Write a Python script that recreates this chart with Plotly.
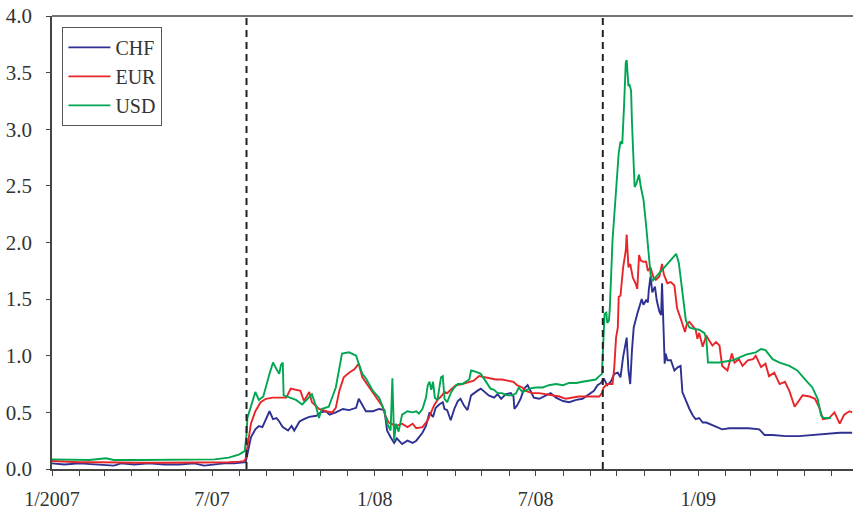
import plotly.graph_objects as go

# ---------------- data ----------------
chf_dates = [
    "2007-01-01","2007-01-15","2007-02-01","2007-02-18","2007-03-05","2007-03-12","2007-03-20",
    "2007-04-04","2007-04-21","2007-05-08","2007-05-25","2007-06-11","2007-06-22","2007-07-04",
    "2007-07-15","2007-07-26","2007-08-04","2007-08-08","2007-08-10","2007-08-14","2007-08-19",
    "2007-08-23","2007-08-27","2007-08-31","2007-09-04","2007-09-08","2007-09-12","2007-09-15",
    "2007-09-19","2007-09-25","2007-09-29","2007-10-02","2007-10-08","2007-10-13","2007-10-19",
    "2007-10-27","2007-11-01","2007-11-07","2007-11-11","2007-11-18","2007-11-26","2007-12-03",
    "2007-12-11","2007-12-14","2007-12-18","2007-12-22","2007-12-30","2008-01-06","2008-01-12",
    "2008-01-15","2008-01-19","2008-01-23","2008-01-26","2008-02-01","2008-02-07","2008-02-13",
    "2008-02-17","2008-02-20","2008-02-24","2008-02-28","2008-03-03","2008-03-07","2008-03-10",
    "2008-03-14","2008-03-18","2008-03-20","2008-03-23","2008-03-27","2008-03-31","2008-04-04",
    "2008-04-07","2008-04-11","2008-04-15","2008-04-19","2008-04-22","2008-04-26","2008-04-30",
    "2008-05-04","2008-05-09","2008-05-15","2008-05-19","2008-05-23","2008-05-28","2008-06-03",
    "2008-06-06","2008-06-07","2008-06-10","2008-06-14","2008-06-18","2008-06-22","2008-06-26",
    "2008-06-29","2008-07-05","2008-07-13","2008-07-18","2008-07-24","2008-08-01","2008-08-08",
    "2008-08-16","2008-08-23","2008-08-31","2008-09-05","2008-09-09","2008-09-13","2008-09-16",
    "2008-09-20","2008-09-24","2008-09-28","2008-10-02","2008-10-05","2008-10-08","2008-10-10",
    "2008-10-12","2008-10-14","2008-10-16","2008-10-18","2008-10-20","2008-10-24","2008-10-28",
    "2008-10-29","2008-10-31","2008-11-03","2008-11-05","2008-11-06","2008-11-08","2008-11-10",
    "2008-11-13","2008-11-15","2008-11-18","2008-11-20","2008-11-21","2008-11-22","2008-11-24",
    "2008-11-25","2008-11-27","2008-12-01","2008-12-05","2008-12-09","2008-12-12","2008-12-14",
    "2008-12-18","2008-12-22","2008-12-26","2008-12-29","2009-01-02","2009-01-06","2009-01-10",
    "2009-01-13","2009-01-21","2009-01-28","2009-02-05","2009-02-16","2009-02-27","2009-03-11",
    "2009-03-17","2009-03-26","2009-04-10","2009-04-25","2009-05-10","2009-05-25","2009-06-10",
    "2009-06-24",
]
chf_values = [
    0.05,0.04,0.05,0.04,0.03,0.03,0.05,
    0.04,0.05,0.04,0.04,0.05,0.03,0.04,
    0.05,0.05,0.06,0.06,0.13,0.28,0.35,
    0.38,0.37,0.44,0.51,0.44,0.45,0.42,
    0.37,0.34,0.38,0.34,0.42,0.44,0.46,
    0.47,0.50,0.51,0.48,0.50,0.53,0.52,
    0.54,0.62,0.56,0.51,0.51,0.53,0.52,
    0.34,0.28,0.23,0.27,0.22,0.25,0.23,
    0.25,0.28,0.32,0.38,0.50,0.46,0.54,
    0.57,0.59,0.53,0.52,0.43,0.53,0.60,
    0.62,0.56,0.52,0.65,0.67,0.69,0.71,
    0.68,0.65,0.63,0.66,0.62,0.66,0.67,
    0.64,0.53,0.56,0.62,0.71,0.74,0.68,
    0.63,0.62,0.65,0.67,0.63,0.60,0.59,
    0.61,0.62,0.66,0.69,0.74,0.76,0.80,
    0.74,0.77,0.84,0.85,0.81,0.99,1.08,
    1.16,0.87,0.75,1.05,1.25,1.37,1.49,
    1.50,1.45,1.49,1.47,1.58,1.70,1.56,
    1.61,1.49,1.39,1.36,1.64,1.37,0.93,
    1.02,0.96,0.96,0.87,0.90,0.91,0.68,
    0.60,0.53,0.47,0.44,0.45,0.41,0.41,
    0.40,0.38,0.35,0.36,0.36,0.36,0.35,
    0.30,0.30,0.29,0.29,0.30,0.31,0.32,
    0.32,
]

eur_dates = [
    "2007-01-01","2007-01-16","2007-02-01","2007-02-23","2007-03-18","2007-04-10","2007-05-03",
    "2007-05-25","2007-06-17","2007-07-10","2007-07-20","2007-08-01","2007-08-06","2007-08-08",
    "2007-08-10","2007-08-14","2007-08-19","2007-08-25","2007-08-31","2007-09-08","2007-09-15",
    "2007-09-23","2007-09-28","2007-10-04","2007-10-09","2007-10-13","2007-10-19","2007-10-22",
    "2007-10-30","2007-11-07","2007-11-14","2007-11-18","2007-11-22","2007-11-27","2007-12-03",
    "2007-12-09","2007-12-14","2007-12-18","2007-12-26","2008-01-02","2008-01-10","2008-01-13",
    "2008-01-17","2008-01-25","2008-02-01","2008-02-07","2008-02-13","2008-02-17","2008-02-24",
    "2008-03-01","2008-03-05","2008-03-08","2008-03-12","2008-03-16","2008-03-20","2008-03-23",
    "2008-03-27","2008-04-02","2008-04-09","2008-04-17","2008-04-22","2008-04-28","2008-05-04",
    "2008-05-09","2008-05-17","2008-05-24","2008-06-01","2008-06-06","2008-06-10","2008-06-16",
    "2008-06-20","2008-06-27","2008-07-05","2008-07-13","2008-07-20","2008-07-28","2008-08-04",
    "2008-08-12","2008-08-19","2008-08-27","2008-09-03","2008-09-11","2008-09-14","2008-09-16",
    "2008-09-20","2008-09-26","2008-09-28","2008-09-30","2008-10-02","2008-10-03","2008-10-05",
    "2008-10-08","2008-10-11","2008-10-12","2008-10-14","2008-10-16","2008-10-19","2008-10-22",
    "2008-10-24","2008-10-26","2008-10-28","2008-10-31","2008-11-03","2008-11-05","2008-11-08",
    "2008-11-11","2008-11-14","2008-11-18","2008-11-21","2008-11-23","2008-11-27","2008-12-01",
    "2008-12-05","2008-12-08","2008-12-12","2008-12-17","2008-12-19","2008-12-22","2008-12-26",
    "2008-12-29","2008-12-31","2009-01-02","2009-01-06","2009-01-10","2009-01-13","2009-01-17",
    "2009-01-21","2009-01-25","2009-01-28","2009-02-03","2009-02-08","2009-02-11","2009-02-16",
    "2009-02-20","2009-02-26","2009-03-04","2009-03-07","2009-03-13","2009-03-18","2009-03-22",
    "2009-03-28","2009-04-03","2009-04-09","2009-04-14","2009-04-20","2009-04-25","2009-04-29",
    "2009-05-07","2009-05-13","2009-05-18","2009-05-22","2009-05-29","2009-06-04","2009-06-10",
    "2009-06-15","2009-06-21","2009-06-24",
]
eur_values = [
    0.07,0.065,0.06,0.06,0.055,0.055,0.055,
    0.055,0.055,0.06,0.06,0.065,0.07,0.09,
    0.19,0.40,0.51,0.59,0.62,0.63,0.63,
    0.63,0.71,0.70,0.69,0.60,0.68,0.59,
    0.53,0.51,0.50,0.54,0.69,0.81,0.85,
    0.88,0.93,0.81,0.72,0.63,0.55,0.47,
    0.41,0.38,0.40,0.37,0.40,0.36,0.37,
    0.43,0.50,0.56,0.61,0.64,0.68,0.67,
    0.70,0.74,0.75,0.77,0.78,0.82,0.81,
    0.80,0.79,0.79,0.78,0.77,0.74,0.72,
    0.69,0.67,0.67,0.66,0.65,0.64,0.62,
    0.63,0.64,0.64,0.64,0.64,0.67,0.72,
    0.75,0.75,0.90,1.16,1.25,1.52,1.53,
    1.78,1.93,2.07,1.78,1.81,1.69,1.64,
    1.59,1.89,1.84,1.83,1.83,1.75,1.78,
    1.70,1.67,1.70,1.81,1.72,1.64,1.65,
    1.62,1.42,1.33,1.21,1.28,1.30,1.26,
    1.23,1.15,1.20,1.08,1.18,1.14,1.09,
    1.12,1.09,0.91,0.87,1.02,0.94,0.97,
    0.91,0.96,0.97,1.00,0.90,0.93,0.82,
    0.85,0.75,0.77,0.69,0.55,0.60,0.65,
    0.64,0.62,0.54,0.44,0.45,0.50,0.40,
    0.48,0.51,0.50,
]

usd_dates = [
    "2007-01-01","2007-01-20","2007-02-12","2007-03-03","2007-03-12","2007-04-10","2007-05-13",
    "2007-06-17","2007-07-04","2007-07-20","2007-08-01","2007-08-07","2007-08-09","2007-08-10",
    "2007-08-14","2007-08-19","2007-08-23","2007-08-28","2007-09-04","2007-09-08","2007-09-12",
    "2007-09-15","2007-09-17","2007-09-19","2007-09-20","2007-09-26","2007-10-04","2007-10-11",
    "2007-10-19","2007-10-22","2007-10-26","2007-10-30","2007-11-02","2007-11-10","2007-11-18",
    "2007-11-22","2007-11-25","2007-12-03","2007-12-11","2007-12-14","2007-12-18","2007-12-22",
    "2007-12-30","2008-01-06","2008-01-12","2008-01-15","2008-01-19","2008-01-21","2008-01-23",
    "2008-01-25","2008-01-28","2008-02-01","2008-02-07","2008-02-13","2008-02-17","2008-02-20",
    "2008-02-24","2008-02-28","2008-03-01","2008-03-03","2008-03-05","2008-03-07","2008-03-09",
    "2008-03-12","2008-03-14","2008-03-16","2008-03-18","2008-03-20","2008-03-23","2008-03-27",
    "2008-03-31","2008-04-04","2008-04-09","2008-04-13","2008-04-17","2008-04-19","2008-04-24",
    "2008-04-30","2008-05-04","2008-05-08","2008-05-11","2008-05-15","2008-05-19","2008-05-24",
    "2008-05-30","2008-06-05","2008-06-09","2008-06-12","2008-06-16","2008-06-24","2008-07-01",
    "2008-07-09","2008-07-16","2008-07-24","2008-08-01","2008-08-08","2008-08-16","2008-08-23",
    "2008-08-31","2008-09-07","2008-09-11","2008-09-14","2008-09-15","2008-09-17","2008-09-19",
    "2008-09-20","2008-09-22","2008-09-23","2008-09-26","2008-09-29","2008-10-03","2008-10-05",
    "2008-10-07","2008-10-09","2008-10-11","2008-10-12","2008-10-14","2008-10-15","2008-10-17",
    "2008-10-18","2008-10-21","2008-10-23","2008-10-26","2008-10-28","2008-10-31","2008-11-03",
    "2008-11-06","2008-11-08","2008-11-10","2008-12-07","2008-12-10","2008-12-14","2008-12-18",
    "2008-12-22","2008-12-26","2009-01-02","2009-01-08","2009-01-10","2009-01-12","2009-01-25",
    "2009-02-09","2009-02-24","2009-03-07","2009-03-13","2009-03-18","2009-03-26","2009-04-03",
    "2009-04-14","2009-04-23","2009-05-03","2009-05-10","2009-05-16","2009-05-20","2009-05-23",
    "2009-05-31",
]
usd_values = [
    0.085,0.08,0.08,0.095,0.08,0.08,0.08,
    0.08,0.085,0.10,0.13,0.16,0.30,0.45,
    0.55,0.68,0.61,0.64,0.84,0.94,0.88,
    0.84,0.92,0.94,0.65,0.63,0.61,0.57,
    0.63,0.66,0.57,0.45,0.53,0.55,0.72,
    0.90,1.02,1.03,1.00,0.93,0.84,0.80,
    0.69,0.63,0.51,0.40,0.34,0.80,0.25,
    0.40,0.33,0.48,0.51,0.50,0.51,0.49,
    0.53,0.63,0.74,0.77,0.70,0.77,0.63,
    0.61,0.70,0.81,0.82,0.62,0.59,0.67,
    0.72,0.75,0.75,0.77,0.79,0.87,0.86,
    0.84,0.79,0.74,0.71,0.70,0.67,0.67,
    0.65,0.65,0.67,0.72,0.68,0.71,0.72,
    0.72,0.74,0.75,0.74,0.76,0.76,0.77,
    0.78,0.79,0.82,0.84,1.02,1.37,1.38,
    1.29,1.31,1.43,2.02,2.32,2.79,2.89,
    2.87,3.20,3.59,3.61,3.38,3.40,3.34,
    3.06,2.49,2.52,2.60,2.49,2.38,2.15,
    1.90,1.72,1.66,1.90,1.82,1.55,1.31,
    1.25,1.24,1.23,1.20,1.15,0.94,0.94,
    0.96,1.01,1.03,1.06,1.05,0.97,0.94,
    0.91,0.87,0.78,0.72,0.62,0.47,0.45,
    0.45,
]

series_names = ["CHF", "EUR", "USD"]
series_colors = ["#2e3192", "#e8262a", "#00a651"]

event_dates = ["2007-08-09", "2008-09-15"]

x_tick_vals = ["2007-01-01", "2007-07-01", "2008-01-01", "2008-07-01", "2009-01-01"]
x_tick_text = ["1/2007", "7/07", "1/08", "7/08", "1/09"]
y_tick_vals = [0.0, 0.5, 1.0, 1.5, 2.0, 2.5, 3.0, 3.5, 4.0]

# ---------------- figure ----------------
FONT = "Liberation Serif"
fig = go.Figure()
for name, color, xs, ys in zip(series_names, series_colors,
                               [chf_dates, eur_dates, usd_dates],
                               [chf_values, eur_values, usd_values]):
    fig.add_trace(go.Scatter(x=xs, y=ys, mode="lines", name=name,
                             line=dict(color=color, width=1.9)))

for d in event_dates:
    fig.add_shape(type="line", xref="x", yref="paper", x0=d, x1=d, y0=0, y1=1,
                  line=dict(color="#222222", width=2, dash="7px,5px"))

fig.update_layout(
    width=853, height=509,
    margin=dict(l=52, r=0, t=16, b=40),
    paper_bgcolor="white", plot_bgcolor="white",
    font=dict(family=FONT, size=21, color="#333333"),
    showlegend=True,
    legend=dict(x=0.013, y=0.976, xanchor="left", yanchor="top",
                bordercolor="#555555", borderwidth=1, bgcolor="white",
                font=dict(family=FONT, size=20, color="#333333"),
                tracegroupgap=0, itemwidth=42),
)
fig.update_xaxes(
    range=["2007-01-01", "2009-06-25"],
    tickmode="array", tickvals=x_tick_vals, ticktext=x_tick_text,
    tickfont=dict(size=20),
    ticks="outside", ticklen=5, tickcolor="#444444", tickwidth=1,
    minor=dict(dtick="M1", tick0="2007-01-01", ticks="outside", ticklen=5,
               tickcolor="#444444", tickwidth=1),
    showline=True, linecolor="#444444", linewidth=1.5, mirror=False,
    showgrid=False, zeroline=False, ticklabelstandoff=6, automargin=False,
)
fig.update_yaxes(
    range=[0, 4.0], tickmode="array", tickvals=y_tick_vals, tickformat=".1f",
    ticks="outside", ticklen=4, tickcolor="#444444",
    showline=True, linecolor="#444444", linewidth=1.5,
    showgrid=False, zeroline=False, ticklabelstandoff=10, automargin=False,
)
# top frame line
fig.add_shape(type="line", xref="paper", yref="paper", x0=0, x1=1, y0=1, y1=1,
              line=dict(color="#444444", width=1.5))

fig.write_html("out.html", config={"displayModeBar": False},
               post_script="document.body.style.margin='0';document.body.style.overflow='hidden';")
